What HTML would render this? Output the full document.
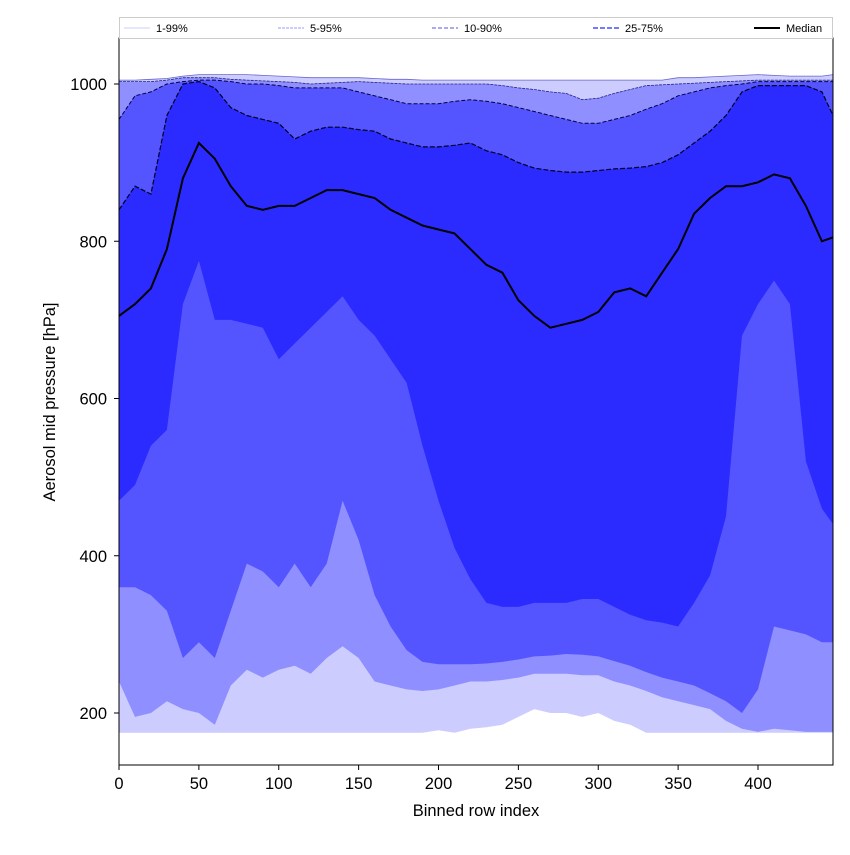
<!DOCTYPE html>
<html><head><meta charset="utf-8"><style>
body{margin:0;background:#fff;}
svg text{font-family:"Liberation Sans",sans-serif;}
</style></head><body>
<svg id="chart" width="850" height="850" viewBox="0 0 850 850" xmlns="http://www.w3.org/2000/svg">
<rect width="850" height="850" fill="#fff"/>
<g id="bands"></g>
<g id="lines"></g>
<rect x="119" y="38" width="714" height="727" fill="none" stroke="#000" stroke-width="1"/>
<g id="xticks"></g>
<g id="yticks"></g>
<text x="476" y="816" font-size="16.5" text-anchor="middle">Binned row index</text>
<text transform="translate(55,402) rotate(-90)" font-size="16.5" text-anchor="middle">Aerosol mid pressure [hPa]</text>
<g>
<rect x="119.5" y="17.5" width="713" height="21" fill="#fff" stroke="#ccc"/>
<g><line x1="124" y1="28" x2="150" y2="28" stroke="#ccccff" stroke-width="1"/><text x="156" y="32" font-size="11">1-99%</text></g>
<g><line x1="278" y1="28" x2="304" y2="28" stroke="#9999ff" stroke-width="1" stroke-dasharray="3,1"/><text x="310" y="32" font-size="11">5-95%</text></g>
<g><line x1="432" y1="28" x2="458" y2="28" stroke="#7777ee" stroke-width="1.3" stroke-dasharray="4,2"/><text x="464" y="32" font-size="11">10-90%</text></g>
<g><line x1="593" y1="28" x2="619" y2="28" stroke="#6666ff" stroke-width="1.8" stroke-dasharray="5,2"/><text x="625" y="32" font-size="11">25-75%</text></g>
<g><line x1="754" y1="28" x2="780" y2="28" stroke="#000" stroke-width="2"/><text x="786" y="32" font-size="11">Median</text></g>
</g>
</svg>
<script>
const xs=[0,10,20,30,40,50,60,70,80,90,100,110,120,130,140,150,160,170,180,190,200,210,220,230,240,250,260,270,280,290,300,310,320,330,340,350,360,370,380,390,400,410,420,430,440,447];
const p1=[175,175,175,175,175,175,175,175,175,175,175,175,175,175,175,175,175,175,175,175,178,175,180,182,185,195,205,200,200,195,200,190,185,175,175,175,175,175,175,175,175,175,175,175,175,175];
const p5=[240,195,200,215,205,200,185,235,255,245,255,260,250,270,285,270,240,235,230,228,230,235,240,240,242,245,250,250,250,248,248,240,235,228,220,215,210,205,190,180,176,180,178,176,176,176];
const p10=[360,360,350,330,270,290,270,330,390,380,360,390,360,390,470,420,350,310,280,265,262,262,262,263,265,268,272,273,275,274,272,266,260,252,245,240,235,225,215,200,230,310,305,300,290,290];
const p25=[470,490,540,560,720,775,700,700,695,690,650,670,690,710,730,700,680,650,620,540,470,410,370,340,335,335,340,340,340,345,345,335,325,318,315,310,340,375,450,680,720,750,720,520,460,440];
const p50=[705,720,740,790,880,925,905,870,845,840,845,845,855,865,865,860,855,840,830,820,815,810,790,770,760,725,705,690,695,700,710,735,740,730,760,790,835,855,870,870,875,885,880,845,800,805];
const p75=[840,870,860,960,1000,1003,995,970,960,955,950,930,940,945,945,942,940,930,925,920,920,922,925,915,910,900,893,890,888,888,890,892,893,895,900,910,925,940,960,990,998,998,998,998,990,960];
const p90=[955,985,990,1000,1003,1005,1005,1003,1000,1000,998,995,995,995,995,990,985,980,975,975,975,978,980,978,975,970,965,960,955,950,950,955,960,968,975,985,990,995,998,1000,1003,1003,1003,1003,1003,1003];
const p95=[1003,1003,1003,1005,1008,1008,1008,1006,1005,1004,1003,1002,1000,1001,1002,1003,1002,1001,1000,1000,1000,1000,1000,1000,998,995,993,990,988,980,982,988,993,998,999,1000,1001,1002,1003,1004,1005,1005,1005,1005,1005,1005];
const p99=[1005,1005,1006,1007,1010,1012,1012,1012,1012,1011,1010,1009,1008,1008,1008,1008,1007,1006,1006,1005,1005,1005,1005,1005,1005,1005,1005,1005,1005,1005,1005,1005,1005,1005,1005,1008,1008,1009,1010,1011,1012,1011,1010,1010,1010,1012];
const xTicks=[0,50,100,150,200,250,300,350,400];
const yTicks=[200,400,600,800,1000];

const NS='http://www.w3.org/2000/svg';
function X(v){return 119+v*1.5975;}
function Y(v){return 84+(1000-v)*0.78625;}
function mk(tag,attrs,parent){const e=document.createElementNS(NS,tag);for(const k in attrs)e.setAttribute(k,attrs[k]);parent.appendChild(e);return e;}
function linePts(arr){return xs.map((x,i)=>X(x).toFixed(1)+','+Y(arr[i]).toFixed(1));}
function bandPath(lo,hi){const top=linePts(hi);const bot=linePts(lo).reverse();return 'M'+top.join('L')+'L'+bot.join('L')+'Z';}
const bands=document.getElementById('bands');
const lines=document.getElementById('lines');
const b1=mk('path',{d:bandPath(p1,p99),fill:'#ccccff'},bands);


const b2=mk('path',{d:bandPath(p5,p95),fill:'#8f8fff'},bands);


const b3=mk('path',{d:bandPath(p10,p90),fill:'#5555ff'},bands);


const b4=mk('path',{d:bandPath(p25,p75),fill:'#2b2bff'},bands);


const l99=mk('polyline',{points:linePts(p99).join(' '),fill:'none',stroke:'#6666cc','stroke-width':0.8},lines);


const l95=mk('polyline',{points:linePts(p95).join(' '),fill:'none',stroke:'#222288','stroke-width':0.8,'stroke-dasharray':'3,1'},lines);


const l90=mk('polyline',{points:linePts(p90).join(' '),fill:'none',stroke:'#000044','stroke-width':1,'stroke-dasharray':'4,2'},lines);


const l75=mk('polyline',{points:linePts(p75).join(' '),fill:'none',stroke:'#000022','stroke-width':1.2,'stroke-dasharray':'5,2'},lines);


const l50=mk('polyline',{points:linePts(p50).join(' '),fill:'none',stroke:'#000','stroke-width':2},lines);


const xg=document.getElementById('xticks');
xTicks.forEach(t=>{
  const tk=mk('line',{x1:X(t),x2:X(t),y1:765,y2:770,stroke:'#000'},xg);
  
  
  const tx=mk('text',{x:X(t),y:789,'font-size':16.5,'text-anchor':'middle'},xg);
  tx.textContent=t;
  
  
});
const yg=document.getElementById('yticks');
yTicks.forEach(t=>{
  const tk=mk('line',{x1:114,x2:119,y1:Y(t),y2:Y(t),stroke:'#000'},yg);
  
  
  const tx=mk('text',{x:107,y:Y(t)+6,'font-size':16.5,'text-anchor':'end'},yg);
  tx.textContent=t;
  
  
});
</script>
</body></html>
